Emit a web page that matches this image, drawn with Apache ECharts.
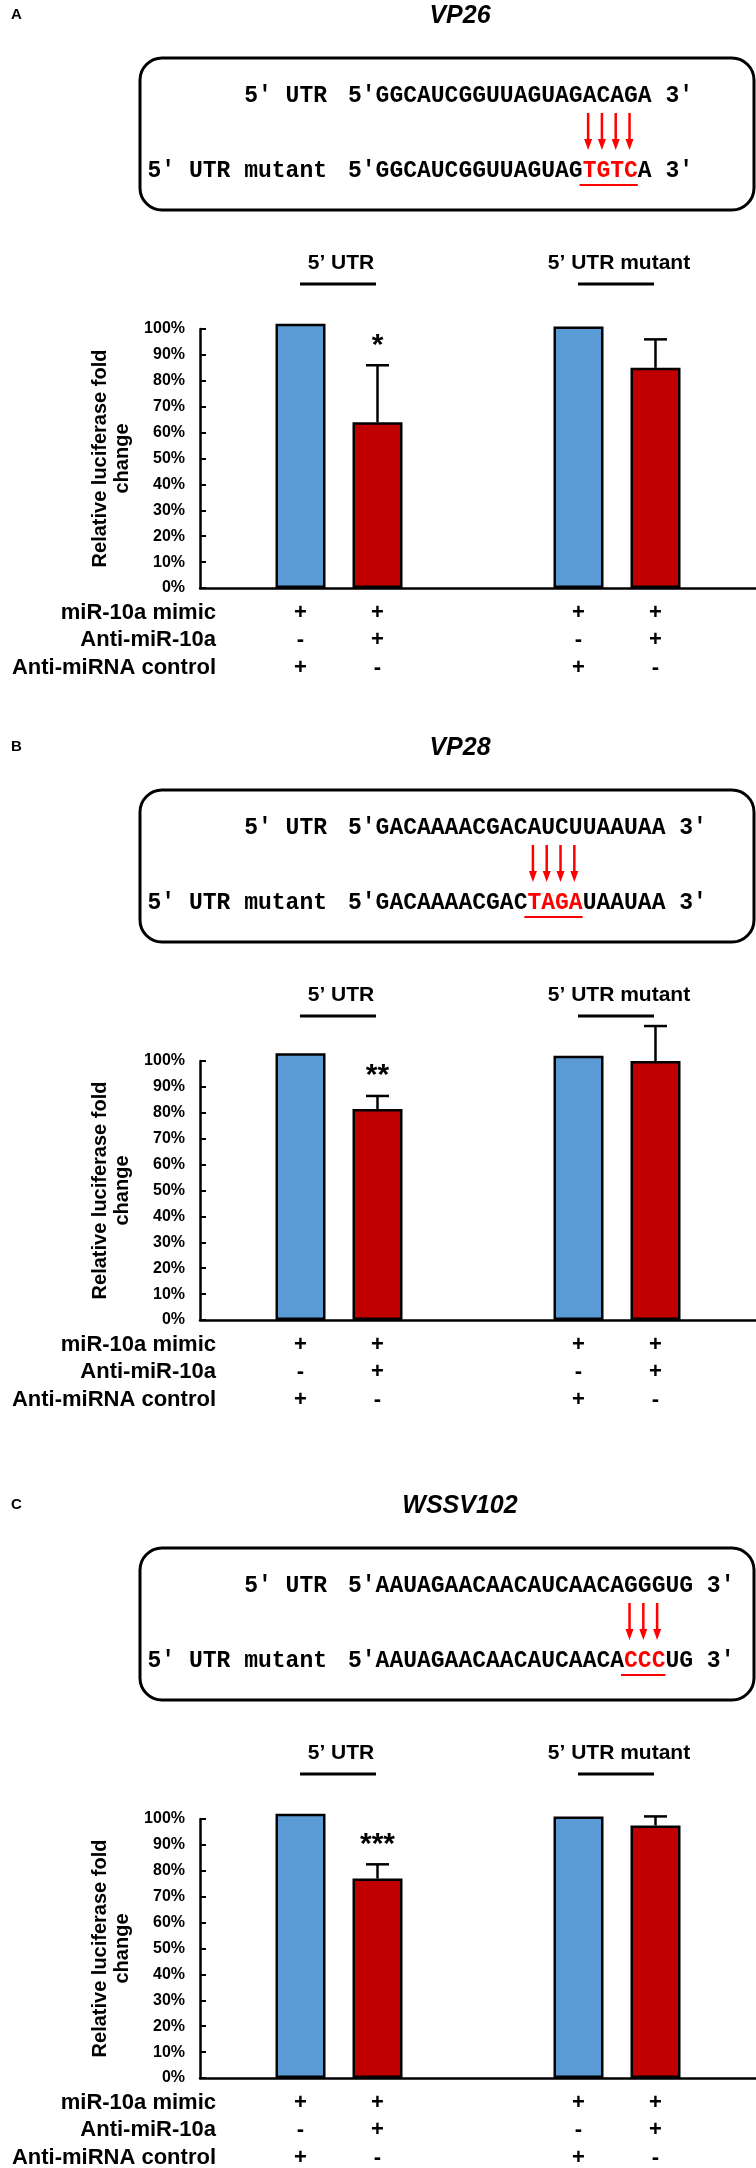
<!DOCTYPE html>
<html>
<head>
<meta charset="utf-8">
<script src="https://cdn.jsdelivr.net/npm/echarts@6/dist/echarts.min.js"></script>
<style>
html,body{margin:0;padding:0;background:#fff;}
#chart{width:756px;height:2168px;}
</style>
</head>
<body>
<div id="chart"></div>
<script>
// ---------------- data ----------------
const categories = ["5\u2019 UTR", "5\u2019 UTR mutant"];
const panelLetters = ["A", "B", "C"];
const geneNames = ["VP26", "VP28", "WSSV102"];
const wildSeqs = ["GGCAUCGGUUAGUAGACAGA", "GACAAAACGACAUCUUAAUAA", "AAUAGAACAACAUCAACAGGGUG"];
const mutantPrefix = ["GGCAUCGGUUAGUAG", "GACAAAACGAC", "AAUAGAACAACAUCAACA"];
const mutantSites = ["TGTC", "TAGA", "CCC"];
const mutantSuffix = ["A", "UAAUAA", "UG"];
const controlValues = [[1.02, 1.01], [1.03, 1.02], [1.02, 1.01]];
const antiValues = [[0.64, 0.85], [0.815, 1.0], [0.77, 0.975]];
const antiErrorTops = [[0.86, 0.96], [0.865, 1.135], [0.825, 1.01]];
const significance = [["*", ""], ["**", ""], ["***", ""]];
const rowLabels = ["miR-10a mimic", "Anti-miR-10a", "Anti-miRNA control"];
const controlSigns = ["+", "-", "+"];
const antiSigns = ["+", "+", "-"];
const yAxisName = "Relative luciferase fold\nchange";

// ---------------- layout ----------------
const panelOffsets = [0, 732, 1490];
const SANS = "Liberation Sans, Arial, sans-serif";
const MONO = "Liberation Mono, Courier New, monospace";
const BLUE = "#5B9BD5", RED = "#C00000", ARROW = "#FF0000";
const BAR_W = 50, BAR_GAP = 27;
const BAR_OFF = (BAR_W + BAR_GAP) / 2;
const SEQ_FS = 23, CW = SEQ_FS * 0.6, SEQ_X = 348, LBL_X = 327;
const ROW_LH = 27.5;

const chart = echarts.init(document.getElementById('chart'));

const grids = [], xAxes = [], yAxes = [], series = [];
panelOffsets.forEach((off, p) => {
  grids.push({left: 200, width: 556, top: 329 + off, height: 259, containLabel: false});
  xAxes.push({
    type: 'category', gridIndex: p, data: categories,
    axisLine: {show: true, lineStyle: {color: '#000', width: 2.5}},
    axisTick: {show: false}, axisLabel: {show: false}, splitLine: {show: false}
  });
  yAxes.push({
    type: 'value', gridIndex: p, min: 0, max: 1, interval: 0.1,
    name: yAxisName, nameLocation: 'middle', nameGap: 66,
    nameTextStyle: {fontFamily: SANS, fontWeight: 'bold', fontSize: 20, lineHeight: 22, color: '#000'},
    axisLine: {show: true, lineStyle: {color: '#000', width: 2.5}},
    axisTick: {show: true, inside: true, length: 6, lineStyle: {color: '#000', width: 2}},
    axisLabel: {
      formatter: v => Math.round(v * 100) + '%', margin: 15,
      fontFamily: SANS, fontWeight: 'bold', fontSize: 16, color: '#000'
    },
    splitLine: {show: false}
  });
  const signLabel = (signs) => ({
    show: true, position: 'bottom', distance: 11,
    formatter: () => rowLabels.map((r, i) => i === 0 ? '+' : signs[i]).join('\n'),
    fontFamily: SANS, fontWeight: 'bold', fontSize: 22, lineHeight: ROW_LH, color: '#000'
  });
  series.push({
    type: 'bar', xAxisIndex: p, yAxisIndex: p, data: controlValues[p],
    barWidth: BAR_W, barGap: (BAR_GAP / BAR_W * 100) + '%', clip: false,
    itemStyle: {color: BLUE, borderColor: '#000', borderWidth: 2.5},
    label: signLabel(controlSigns), silent: true
  });
  series.push({
    type: 'bar', xAxisIndex: p, yAxisIndex: p, data: antiValues[p],
    barWidth: BAR_W, barGap: (BAR_GAP / BAR_W * 100) + '%', clip: false,
    itemStyle: {color: RED, borderColor: '#000', borderWidth: 2.5},
    label: signLabel(antiSigns), silent: true
  });
  series.push({
    type: 'custom', xAxisIndex: p, yAxisIndex: p, clip: false, silent: true, z: 5,
    data: antiValues[p].map((v, i) => [i, v, antiErrorTops[p][i]]),
    renderItem: (params, api) => {
      const base = api.coord([api.value(0), api.value(1)]);
      const top = api.coord([api.value(0), api.value(2)]);
      const x = base[0] + BAR_OFF;
      const st = {stroke: '#000', lineWidth: 2.5};
      const children = [
        {type: 'line', shape: {x1: x, y1: base[1], x2: x, y2: top[1]}, style: st},
        {type: 'line', shape: {x1: x - 11.5, y1: top[1], x2: x + 11.5, y2: top[1]}, style: st}
      ];
      const s = significance[p][params.dataIndex];
      if (s) children.push({type: 'text', style: {
        text: s, x: x, y: top[1] - 20, textAlign: 'center', textVerticalAlign: 'middle',
        fontFamily: SANS, fontWeight: 'bold', fontSize: 30, fill: '#000'}});
      return {type: 'group', children: children};
    }
  });
});

chart.setOption({
  animation: false,
  backgroundColor: '#fff',
  grid: grids, xAxis: xAxes, yAxis: yAxes, series: series
});

// ---------------- annotations via library coordinates ----------------
const graphics = [];
panelOffsets.forEach((off, p) => {
  graphics.push({type: 'text', style: {text: panelLetters[p], x: 11, y: off + 15,
    textVerticalAlign: 'middle', fontFamily: SANS, fontWeight: 'bold', fontSize: 15, fill: '#000'}});
  graphics.push({type: 'text', style: {text: geneNames[p], x: 460, y: off + 16, textAlign: 'center',
    textVerticalAlign: 'middle', fontFamily: SANS, fontWeight: 'bold', fontStyle: 'italic', fontSize: 25, fill: '#000'}});
  graphics.push({type: 'rect', shape: {x: 140, y: off + 58, width: 614, height: 152, r: 22},
    style: {fill: 'none', stroke: '#000', lineWidth: 3}});
  const seqStyle = {fontFamily: MONO, fontWeight: 'bold', fontSize: SEQ_FS, textVerticalAlign: 'middle', fill: '#000'};
  const yL1 = off + 96, yL2 = off + 171;
  graphics.push({type: 'text', style: Object.assign({text: "5\u2032 UTR", x: LBL_X, y: yL1, textAlign: 'right'}, seqStyle)});
  graphics.push({type: 'text', style: Object.assign({text: "5\u2032 UTR mutant", x: LBL_X, y: yL2, textAlign: 'right'}, seqStyle)});
  graphics.push({type: 'text', style: Object.assign({text: "5\u2032" + wildSeqs[p] + " 3\u2032", x: SEQ_X, y: yL1, textAlign: 'left'}, seqStyle)});
  graphics.push({type: 'text', style: {
    text: '{b|5\u2032' + mutantPrefix[p] + '}{r|' + mutantSites[p] + '}{b|' + mutantSuffix[p] + ' 3\u2032}',
    x: SEQ_X, y: yL2, textAlign: 'left', textVerticalAlign: 'middle',
    fontFamily: MONO, fontWeight: 'bold', fontSize: SEQ_FS,
    rich: {
      b: {fontFamily: MONO, fontWeight: 'bold', fontSize: SEQ_FS, fill: '#000', color: '#000'},
      r: {fontFamily: MONO, fontWeight: 'bold', fontSize: SEQ_FS, fill: ARROW, color: ARROW}
    }}});
  const k = mutantPrefix[p].length, n = mutantSites[p].length;
  for (let j = 0; j < n; j++) {
    const ax = SEQ_X + (2 + k + j + 0.4) * CW;
    graphics.push({type: 'line', shape: {x1: ax, y1: off + 113, x2: ax, y2: off + 141},
      style: {stroke: ARROW, lineWidth: 2.5}});
    graphics.push({type: 'polygon', shape: {points: [[ax - 4, off + 139], [ax + 4, off + 139], [ax, off + 150]]},
      style: {fill: ARROW}});
  }
  graphics.push({type: 'line', shape: {x1: SEQ_X + (2 + k) * CW - 3, y1: off + 185, x2: SEQ_X + (2 + k + n) * CW, y2: off + 185},
    style: {stroke: ARROW, lineWidth: 2}});
  const y0 = chart.convertToPixel({yAxisIndex: p}, 0);
  categories.forEach((c, i) => {
    const cx = chart.convertToPixel({xAxisIndex: p}, c);
    graphics.push({type: 'text', style: {text: c, x: cx + 2, y: off + 263, textAlign: 'center', textVerticalAlign: 'middle',
      fontFamily: SANS, fontWeight: 'bold', fontSize: 21, fill: '#000'}});
    graphics.push({type: 'line', shape: {x1: cx - 39, y1: off + 284, x2: cx + 37, y2: off + 284},
      style: {stroke: '#000', lineWidth: 3}});
  });
  rowLabels.forEach((r, i) => {
    graphics.push({type: 'text', style: {text: r, x: 216, y: y0 + 11 + ROW_LH * (i + 0.5), textAlign: 'right', textVerticalAlign: 'middle',
      fontFamily: SANS, fontWeight: 'bold', fontSize: 22, fill: '#000'}});
  });
});
chart.setOption({graphic: graphics});
</script>
</body>
</html>
